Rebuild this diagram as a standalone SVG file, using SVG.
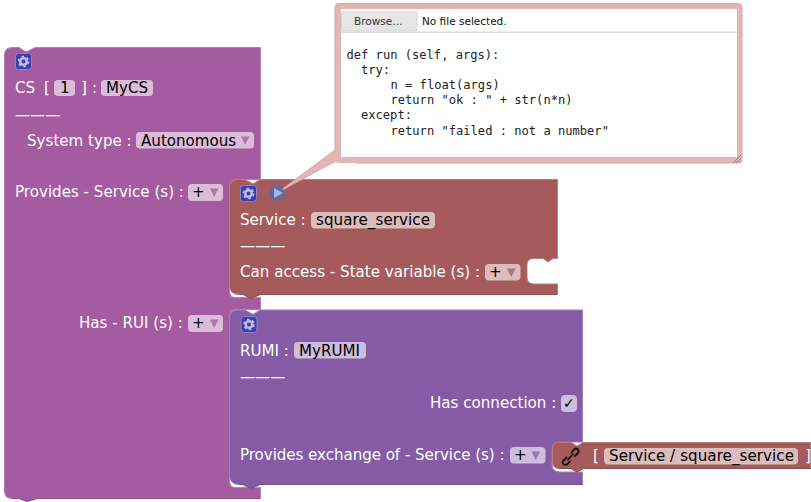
<svg xmlns="http://www.w3.org/2000/svg" width="811" height="502" viewBox="0 0 811 502">
<style>
text{font-family:"DejaVu Sans",sans-serif;font-size:15.1px;fill:#fff}
.v{fill:#000}
.code{font-family:"DejaVu Sans Mono",monospace;font-size:12.1px;fill:#222;white-space:pre}
.ui{font-family:"DejaVu Sans",sans-serif;font-size:10.5px;fill:#333}
.f{fill:#fff;fill-opacity:.6}
.ic{fill:#3f3fa9;stroke:#8585cc;stroke-width:1}
.g{fill:none;stroke:#bcbce8;stroke-width:1.700;stroke-dasharray:2.600 2.640}
.gi{fill:none;stroke:#bcbce8;stroke-width:2.500}
.cs{fill:#a55ba0;stroke:#b97fb5;stroke-width:1}
.sv{fill:#a55b5b;stroke:#b97f7f;stroke-width:1}
.ru{fill:#855ba5;stroke:#a07fb9;stroke-width:1}
.dcs{fill:none;stroke:#8d4e89}
.dsv{fill:none;stroke:#8d4e4e}
.dru{fill:none;stroke:#724e8d}
.tri{fill-opacity:.75}
</style>
<defs>
<g id="gear"><rect class="ic" x="0.500" y="0.500" width="16" height="16" rx="3"/><circle class="g" cx="8.500" cy="8.500" r="5"/><circle class="gi" cx="8.500" cy="8.500" r="3.300"/></g>
</defs>

<g id="node-cs">
<path class="cs" d="M12 47.500H19L26 52 35 47.500H260.500V179.500H237Q229.500 179.500 229.500 187V290Q229.500 297.500 235 297.500H260.500V309.500H237Q229.500 309.500 229.500 317V480Q229.500 487.500 235 487.500H260.500V498.500H37L27 501.500 19 498.500H12Q4.500 498.500 4.500 491V55Q4.500 47.500 12 47.500Z"/>
<path class="dcs" d="M12 498.500H19L27 501.500 37 498.500H260.500"/>
<use href="#gear" x="15" y="53"/>
<text x="15" y="92.500">CS</text><text x="44" y="92.500">[</text>
<rect class="f" x="54" y="80" width="21" height="16" rx="4"/><text class="v" x="60" y="92.500">1</text>
<text x="81" y="92.500">]</text><text x="92" y="92.500">:</text>
<rect class="f" x="101" y="80" width="52" height="16" rx="4"/><text class="v" x="106" y="92.500">MyCS</text>
<text x="15" y="120">———</text>
<text x="27" y="145.500">System type :</text>
<rect class="f" x="136" y="132" width="118" height="16.500" rx="4"/><text class="v" x="141" y="145.500">Autonomous</text>
<path class="tri" d="M241 136.500H249.500L245.200 145Z" fill="#a55ba0"/>
<text x="15" y="197">Provides - Service (s) :</text>
<rect class="f" x="188" y="184" width="35" height="17" rx="4"/><text class="v" x="192" y="197">+</text>
<path class="tri" d="M210 188.500H218.500L214.200 197Z" fill="#a55ba0"/>
<text x="79" y="327.500">Has - RUI (s) :</text>
<rect class="f" x="188" y="315" width="35" height="17" rx="4"/><text class="v" x="192" y="328">+</text>
<path class="tri" d="M210 319.500H218.500L214.200 328Z" fill="#a55ba0"/>
</g>

<g id="node-service">
<path class="sv" d="M237 179.500H245L253 184 260 179.500H557.500V258.500H553L548 262 543 258.500H534Q527 258.500 527 265V277Q527 284 534 284H557.500V294.500H260L251 298.500 243 294.500H239Q229.500 294.500 229.500 285V187Q229.500 179.500 237 179.500Z"/>
<path class="dsv" d="M239 294.500H243L251 298.500 260 294.500H557.500"/>
<use href="#gear" x="240" y="185"/>
<text x="240" y="224.500">Service :</text>
<rect class="f" x="311" y="212" width="124" height="16.500" rx="4"/><text class="v" x="316" y="224.500" textLength="114">square_service</text>
<text x="240" y="251">———</text>
<text x="240" y="276.500">Can access - State variable (s) :</text>
<rect class="f" x="485" y="264" width="35.500" height="16.500" rx="4"/><text class="v" x="489" y="276.500">+</text>
<path class="tri" d="M507 268.500H515.500L511.200 277Z" fill="#a55b5b"/>
</g>

<g id="node-rumi">
<path class="ru" d="M237 310H245L253 314.500 260 310H582.500V442H560Q552 442 552 450V464Q552 472 560 472H582.500V484.500H260L251 488.500 243 484.500H239Q229.500 484.500 229.500 475V317.500Q229.500 310 237 310Z"/>
<path class="dru" d="M239 484.500H243L251 488.500 260 484.500H582.500"/>
<use href="#gear" x="240.500" y="316"/>
<text x="240" y="355.500">RUMI :</text>
<rect class="f" x="294" y="342" width="72" height="16.500" rx="4"/><text class="v" x="299" y="355.500">MyRUMI</text>
<text x="240" y="382">———</text>
<text x="430" y="407.500">Has connection :</text>
<rect class="f" x="561" y="395" width="16" height="17" rx="4"/><text class="v" x="563" y="408" style="font-size:14px;font-weight:bold">✓</text>
<text x="240" y="459.500" textLength="264.500">Provides exchange of - Service (s) :</text>
<rect class="f" x="510" y="447" width="35.500" height="16.500" rx="4"/><text class="v" x="514" y="460">+</text>
<path class="tri" d="M531.500 451.500H540L535.700 460Z" fill="#855ba5"/>
</g>

<g id="node-link">
<path class="sv" d="M559 442.500H571L577 446 583 442.500H810.500V468.500H583L577 472 571 468.500H559Q552.500 468.500 552.500 462V449Q552.500 442.500 559 442.500Z"/>
<path class="dsv" d="M559 468.500H571L577 472 583 468.500H811"/>
<path d="M568 459.500L573 454M566.500 457.500L563.500 460.500Q561.500 463 564 464.500 566 465.500 568 463.500L570 461.500M571.500 452.500L574 449.500Q576 447.500 578 449.500 579.500 451.500 577.500 453.500L575 456" fill="none" stroke="#111" stroke-width="1.800" stroke-linecap="round"/>
<text x="593" y="461">[</text>
<rect class="f" x="604" y="448" width="194" height="16.500" rx="4"/><text class="v" x="609" y="461" textLength="185">Service / square_service</text>
<text x="805" y="461">]</text>
</g>

<g id="connectors">
<path d="M277 193L335 150H356Z" fill="#e3b5b5" stroke="#d4a5a5" stroke-width="1"/>
</g>

<g id="node-bubble">
<rect x="335" y="3.500" width="407" height="159.500" rx="4" fill="#e3b5b5"/>
<path d="M335 150V7.500Q335 3.500 339 3.500H738Q742 3.500 742 7.500V159Q742 163 738 163H356" fill="none" stroke="#d4a5a5"/>
<rect x="341" y="9" width="396" height="148" fill="#fff"/>
<rect x="341.500" y="12" width="75.500" height="19" rx="1" fill="#e6e6e6" stroke="#d4d4d4"/>
<text class="ui" x="354" y="25">Browse…</text>
<text class="ui" x="422" y="25" style="fill:#111">No file selected.</text>
<rect x="341" y="31.500" width="396" height="1.500" fill="#dcdcdc"/>
<text class="code" x="346.500" y="59">def run (self, args):</text>
<text class="code" x="361" y="74">try:</text>
<text class="code" x="390.500" y="89">n = float(args)</text>
<text class="code" x="390.500" y="104">return "ok : " + str(n*n)</text>
<text class="code" x="361" y="119">except:</text>
<text class="code" x="390.500" y="134.500">return "failed : not a number"</text>
<path d="M741 155L733 163M741 158L736 163M741 161L739 163" stroke="#888" stroke-width="1" fill="none"/>
<circle cx="277" cy="193" r="6.500" fill="#5a6ba8" stroke="#5a6ba8" stroke-width="3" stroke-dasharray="1.800 1.600"/>
<path d="M274 188L283 193 274 198Z" fill="#a9b5dc"/>
</g>
</svg>
